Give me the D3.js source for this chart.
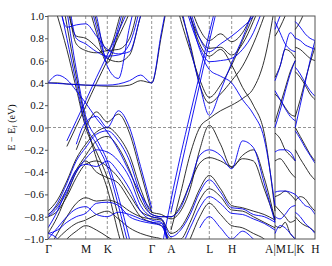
<!DOCTYPE html>
<html>
<head>
<meta charset="utf-8">
<script src="https://cdn.jsdelivr.net/npm/d3@7"></script>
<style>
  body { margin: 0; background: #fff; }
  svg { display: block; }
  text { font-family: "Liberation Serif", "DejaVu Serif", serif; }
</style>
</head>
<body>
<svg id="chart" width="332" height="266"></svg>
<script>
// high-symmetry points along the path (path length, arbitrary units)
const kLabels = ['Γ', 'M', 'K', 'Γ', 'A', 'L', 'H', 'A|M', 'L|K', 'H'];
const kTicks  = [0, 0.377, 0.593, 1.037, 1.23, 1.613, 1.837, 2.27, 2.473, 2.67];
const kBreaks = [2.27, 2.473];          // discontinuities, drawn solid
const yTicks  = [-1.0, -0.8, -0.6, -0.4, -0.2, 0.0, 0.2, 0.4, 0.6, 0.8, 1.0];
const mainDivs = [4, 2, 4, 2, 4, 2, 4]; // samples between ticks, Γ..A

// energies (eV) on the main path Γ-M-K-Γ-A-L-H-A, 23 samples
const _ = null;
const bk1  = [0.40,0.40,0.39,0.385,0.38,0.375,0.37,0.37,0.38,0.42,0.40,0.82,1.3];
const bk2  = [_,1.0,0.7,0.35,0.0,-0.22,-0.45,-0.8,-1.2];
const bk3  = [_,1.4,0.92,0.46,0.06,-0.28,-0.55,-0.95,-1.3];
const bk4  = [_,_,-0.17,0.01,0.19,0.4,0.6,0.81,1.03,1.3];
const bk5  = [_,_,_,_,1.4,0.95,0.69,0.95,1.4];
const bk6  = [_,_,_,_,1.2,0.85,0.58,0.85,1.2];
const bk7  = [_,_,1.1,0.82,0.80,0.72,0.62,0.59,0.65,1.0,1.3];
const bk8  = [_,_,1.2,0.75,0.69,0.67,0.69,0.70,0.8,1.2];
const bk9  = [_,_,_,-0.2,0.0,0.14,0.05,0.12,-0.05,-0.4,-0.76];
const bk10 = [-0.75,-0.65,-0.48,-0.28,-0.15,-0.04,0.0,-0.08,-0.25,-0.55,-0.76,-0.78,-0.82,-0.75,-0.55,-0.2,0.02,-0.15,-0.36,-0.25,-0.2,-0.45,-0.83];
const bk11 = [-0.78,-0.7,-0.55,-0.38,-0.25,-0.12,-0.08,-0.18,-0.38,-0.65,-0.78,-0.8,-0.8,-0.7,-0.5,-0.32,-0.27,-0.3,-0.35,-0.28,-0.3,-0.55,-0.82];
const bk12 = [-0.8,-0.75,-0.62,-0.45,-0.33,-0.3,-0.35,-0.45,-0.6,-0.75,-0.8,-0.82,-0.95,-0.9,-0.75,-0.55,-0.43,-0.55,-0.7,-0.72,-0.75,-0.78,-0.83];
const bk13 = [-0.95,-0.8,-0.6,-0.4,-0.3,-0.4,-0.45,-0.5,-0.65,-0.8,-0.85,-0.88,-1.0,-1.0,-0.85,-0.65,-0.55,-0.62,-0.74,-0.75,-0.8,-0.85,-0.9];
const bk14 = [-1.1,-0.95,-0.8,-0.68,-0.63,-0.66,-0.65,-0.68,-0.75,-0.8,-0.82,-0.83,-1.1,-1.2,-1.0,-0.8,-0.68,-0.78,-0.88,-0.9,-0.95,-1.0,-1.1];
const bk15 = [-1.1,-1.0,-0.92,-0.86,-0.83,-0.78,-0.75,-0.82,-0.9,-0.95,-0.98,-1.0,-1.2];
const bk16 = [-1.2,-1.1,-1.0,-0.93,-0.88,-0.92,-0.98,-1.05,-1.2];
const bk17 = [_,_,_,_,_,_,_,_,_,_,_,_,-0.92,-0.59,-0.24,0.0,0.08,0.15,0.2,0.26,0.35,0.6,1.1];
const bk18 = [_,_,_,_,_,_,_,_,_,_,_,_,1.3,0.97,0.69,0.43,0.27,0.38,0.56,0.78,1.0,1.25];
const bk19 = [_,_,_,_,_,_,_,_,_,_,_,_,1.35,1.05,0.75,0.38,0.22,0.3,0.42,0.55,0.75,1.0,1.3];
const bk20 = [_,_,_,_,_,_,_,_,_,_,_,_,_,1.4,1.1,0.88,0.78,0.84,0.77,0.85,1.05,1.3];
const bk21 = [_,_,_,_,_,_,_,_,_,_,_,_,_,1.3,1.0,0.8,0.71,0.72,0.65,0.75,0.95,1.2];
const bk22 = [_,_,_,_,_,_,_,_,_,_,_,_,_,1.3,1.0,0.75,0.64,0.7,0.56,0.36,0.2,-0.05,-0.75];

const bl1  = [0.40,0.47,0.43,0.33,0.22,0.08,-0.04,-0.2,-0.4,-0.6,-0.75];
const bl2  = [0.40,0.395,0.39,0.385,0.38,0.38,0.38,0.39,0.42,0.47,0.40,0.85,1.3];
const bl3  = [_,1.2,0.8,0.4,0.03,-0.15,-0.35,-0.7,-1.1];
const bl4  = [_,1.6,1.05,0.52,0.1,-0.1,-0.3,-0.62,-1.0];
const bl5  = [_,_,-0.12,0.06,0.24,0.45,0.65,0.86,1.08,1.3];
const bl6  = [_,_,_,_,1.3,0.9,0.62,0.9,1.3];
const bl7  = [_,_,_,_,1.3,1.0,0.55,0.44,0.9,1.3];
const bl8  = [_,1.2,0.9,0.92,0.93,0.82,0.70,0.66,0.68,1.0,1.3];
const bl9  = [_,_,1.3,0.8,0.75,0.68,0.64,0.65,0.75,1.1];
const bl10 = [_,_,_,-0.15,0.05,0.1,0.0,0.15,0.0,-0.35,-0.72];
const bl11 = [-0.79,-0.68,-0.5,-0.3,-0.18,-0.06,-0.03,-0.12,-0.3,-0.6,-0.78,-0.8,-0.8,-0.72,-0.5,-0.25,-0.2,-0.25,-0.37,-0.12,-0.18,-0.5,-0.85];
const bl12 = [-0.8,-0.72,-0.58,-0.4,-0.28,-0.2,-0.22,-0.3,-0.45,-0.7,-0.8,-0.82,-0.98,-0.92,-0.78,-0.58,-0.47,-0.58,-0.72,-0.73,-0.78,-0.8,-0.85];
const bl13 = [-0.9,-0.75,-0.55,-0.38,-0.33,-0.35,-0.3,-0.4,-0.55,-0.75,-0.83,-0.85,-1.05,-1.05,-0.9,-0.72,-0.62,-0.68,-0.77,-0.78,-0.82,-0.86,-0.92];
const bl14 = [-1.0,-0.9,-0.8,-0.73,-0.71,-0.78,-0.8,-0.76,-0.78,-0.82,-0.85,-0.86,-1.2,_,_,-0.9,-0.8,-0.9,-1.0,-0.93,-1.0,-1.1];
const bl15 = [-0.95,-0.92,-0.85,-0.8,-0.77,-0.68,-0.67,-0.7,-0.8,-0.84,-0.86,-0.88,-1.2];
const bl16 = [-0.95,-1.0,-1.15];
const bl17 = [_,_,_,_,_,_,_,_,_,_,_,_,-0.76,-0.37,0.01,0.39,0.77,1.2];
const bl18 = [_,_,_,_,_,_,_,_,_,_,_,-1.1,-0.65,-0.25,0.12,0.48,0.85,1.25];
const bl19 = [_,_,_,_,_,_,_,_,_,_,_,_,1.45,1.1,0.72,0.38,0.11,0.33,0.58,0.8,1.05,1.3];
const bl20 = [_,_,_,_,_,_,_,_,_,_,_,_,1.55,1.25,0.95,0.72,0.59,0.6,0.62,0.7,0.85,1.1];
const bl21 = [_,_,_,_,_,_,_,_,_,_,_,_,_,1.35,1.05,0.8,0.68,0.75,0.82,0.9,1.0,1.2];
const bl22 = [_,_,_,_,_,_,_,_,_,_,_,_,_,1.3,1.0,0.7,0.52,0.46,0.4,0.25,0.12,-0.1,-0.7];

// M-L segment, 5 samples
const mlBlack = [
  [0.82,0.9,1.0,1.1,1.2], [0.45,0.55,0.7,0.68,0.62], [0.3,0.25,0.18,0.12,0.1],
  [0.05,0.2,0.35,0.5,0.6], [-0.05,-0.1,-0.2,-0.25,-0.3], [-0.3,-0.28,-0.33,-0.4,-0.45],
  [-0.62,-0.6,-0.57,-0.6,-0.65], [-0.7,-0.75,-0.8,-0.85,-0.83], [-0.88,-0.9,-0.85,-0.95,-1.0]
];
const mlBlue = [
  [0.88,1.0,1.1,1.2,1.3], [0.95,0.85,0.75,0.7,0.68], [0.42,0.55,0.72,0.85,0.8],
  [0.33,0.25,0.17,0.1,0.06], [0.0,0.15,0.32,0.48,0.6], [-0.22,-0.2,-0.2,-0.22,-0.3],
  [-0.58,-0.57,-0.57,-0.58,-0.6], [-0.8,-0.82,-0.78,-0.72,-0.7], [-0.95,-0.88,-0.9,-0.95,-1.0]
];
// K-H segment, 5 samples
const khBlack = [
  [0.88,0.95,1.05,1.15,1.25], [0.72,0.7,0.66,0.62,0.6], [0.5,0.45,0.38,0.3,0.25],
  [0.1,0.25,0.42,0.58,0.72], [0.0,-0.08,-0.16,-0.24,-0.3], [-0.2,-0.28,-0.35,-0.42,-0.47],
  [-0.66,-0.62,-0.64,-0.7,-0.75], [-0.8,-0.85,-0.88,-0.9,-0.94]
];
const khBlue = [
  [0.8,0.78,0.74,0.72,0.7], [0.95,0.9,0.84,0.8,0.78], [0.54,0.48,0.4,0.33,0.28],
  [0.0,0.2,0.4,0.6,0.78], [-0.03,-0.1,-0.18,-0.25,-0.32], [-0.6,-0.65,-0.7,-0.72,-0.78],
  [-0.76,-0.8,-0.86,-0.9,-0.95]
];

const mainBlack = [bk1,bk2,bk3,bk4,bk5,bk6,bk7,bk8,bk9,bk10,bk11,bk12,bk13,bk14,bk15,bk16,bk17,bk18,bk19,bk20,bk21,bk22];
const mainBlue  = [bl1,bl2,bl3,bl4,bl5,bl6,bl7,bl8,bl9,bl10,bl11,bl12,bl13,bl14,bl15,bl16,bl17,bl18,bl19,bl20,bl21,bl22];

const BLACK = '#1a1a1a';
const BLUE = '#0000f0';

function subdivide(a, b, n){
    return d3.range(n + 1).map(i => a + (b - a) * i / n);
}

function main(){
    const svg = d3.select('#chart');
    const margin = {left: 48, top: 16, right: 17, bottom: 27};
    const W = 332, H = 266;

    const x = d3.scaleLinear().domain([0, kTicks[kTicks.length - 1]])
        .range([margin.left, W - margin.right]);
    const y = d3.scaleLinear().domain([-1, 1]).range([H - margin.bottom, margin.top]);

    // sample grids
    let mainK = [0];
    mainDivs.forEach((n, i) => {
        mainK = mainK.concat(subdivide(kTicks[i], kTicks[i + 1], n).slice(1));
    });
    const mlK = subdivide(kTicks[7], kTicks[8], 4);
    const khK = subdivide(kTicks[8], kTicks[9], 4);

    svg.append('clipPath').attr('id', 'plotClip')
        .append('rect')
        .attr('x', x.range()[0]).attr('y', y(1))
        .attr('width', x.range()[1] - x.range()[0])
        .attr('height', y(-1) - y(1));

    // guide lines
    const guides = svg.append('g');
    kTicks.slice(1, -1).forEach(k => {
        const solid = kBreaks.includes(k);
        guides.append('line')
            .attr('x1', x(k)).attr('x2', x(k))
            .attr('y1', y(1)).attr('y2', y(-1))
            .attr('stroke', solid ? '#555' : '#777')
            .attr('stroke-width', solid ? 1 : 0.8)
            .attr('stroke-dasharray', solid ? null : '3,2');
    });
    guides.append('line')
        .attr('x1', x.range()[0]).attr('x2', x.range()[1])
        .attr('y1', y(0)).attr('y2', y(0))
        .attr('stroke', '#777').attr('stroke-width', 0.8)
        .attr('stroke-dasharray', '3,2');

    const line = d3.line()
        .defined(d => d[1] !== null && d[1] !== undefined)
        .x(d => x(d[0])).y(d => y(d[1]))
        .curve(d3.curveMonotoneX);

    const bands = svg.append('g').attr('clip-path', 'url(#plotClip)');

    function drawSet(list, ks, color){
        bands.append('g').selectAll('path')
            .data(list.map(b => ks.map((k, i) => [k, i < b.length ? b[i] : null])))
            .join('path')
            .attr('d', line)
            .attr('fill', 'none')
            .attr('stroke', color)
            .attr('stroke-width', 0.9);
    }

    drawSet(mainBlack, mainK, BLACK);
    drawSet(mlBlack, mlK, BLACK);
    drawSet(khBlack, khK, BLACK);
    drawSet(mainBlue, mainK, BLUE);
    drawSet(mlBlue, mlK, BLUE);
    drawSet(khBlue, khK, BLUE);

    // frame
    svg.append('rect')
        .attr('x', x.range()[0]).attr('y', y(1))
        .attr('width', x.range()[1] - x.range()[0])
        .attr('height', y(-1) - y(1))
        .attr('fill', 'none').attr('stroke', '#555').attr('stroke-width', 1);

    // y axis
    const yAxis = d3.axisLeft(y).tickValues(yTicks).tickSize(3)
        .tickFormat(d => d3.format('.1f')(d).replace('-', '\u2212'));
    const gy = svg.append('g')
        .attr('transform', `translate(${x.range()[0]},0)`)
        .call(yAxis);
    gy.select('.domain').remove();
    gy.selectAll('.tick line').attr('stroke', '#555');
    gy.selectAll('.tick text')
        .attr('font-family', '"Liberation Serif", serif')
        .attr('font-size', 11).attr('fill', '#111').attr('x', -4);

    // x labels
    const xAxis = d3.axisBottom(x).tickValues(kTicks).tickSize(0)
        .tickFormat((d, i) => kLabels[i]);
    const gx = svg.append('g')
        .attr('transform', `translate(0,${y(-1)})`)
        .call(xAxis);
    gx.select('.domain').remove();
    gx.selectAll('.tick text')
        .attr('font-family', '"Liberation Serif", serif')
        .attr('font-size', 11.5).attr('fill', '#111').attr('dy', '0.95em');

    // y label
    const lab = svg.append('text')
        .attr('transform', `translate(15,${y(0)}) rotate(-90)`)
        .attr('text-anchor', 'middle')
        .attr('font-size', 10).attr('fill', '#111');
    lab.append('tspan').text('E \u2212 E');
    lab.append('tspan').attr('font-size', 7).attr('dy', 2).text('f');
    lab.append('tspan').attr('dy', -2).text(' (eV)');
}

window.onload = main;
</script>
</body>
</html>
